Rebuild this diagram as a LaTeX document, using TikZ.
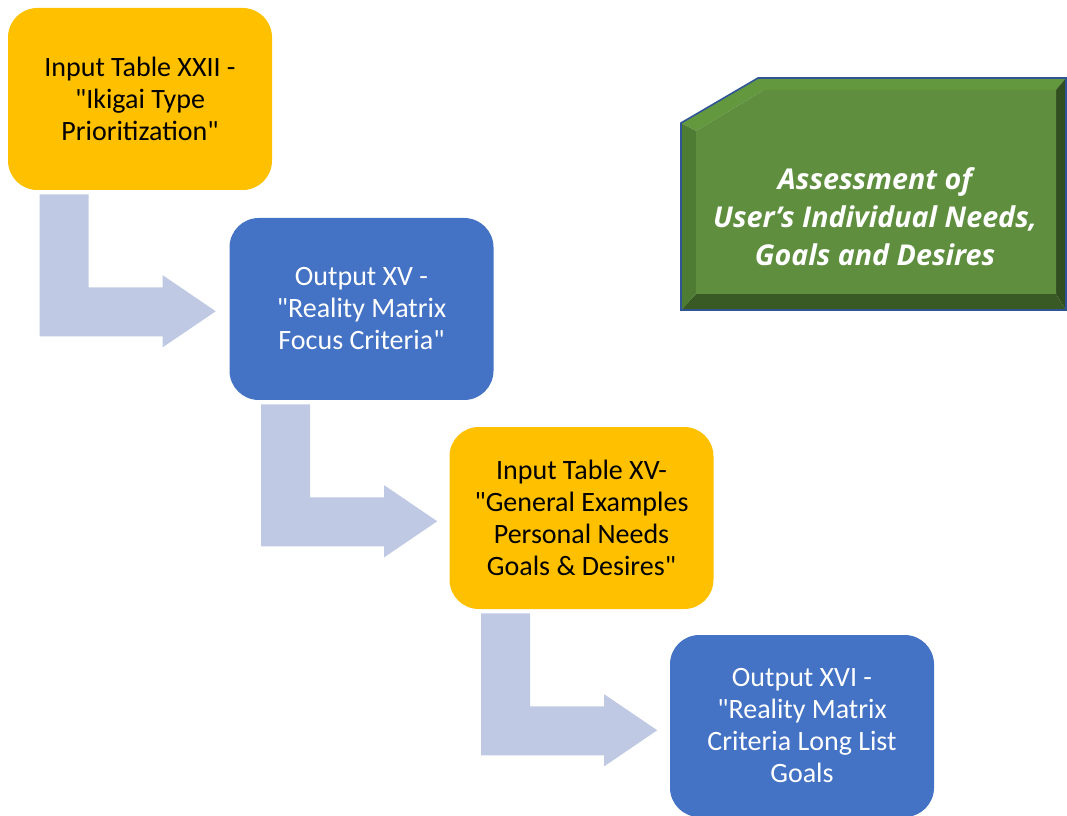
\documentclass[tikz,border=0pt]{standalone}
\usepackage{fontspec}
\setmainfont{Carlito}[Ligatures=TeXOff]
\newfontfamily\greenfont{Open Sans}
\usepackage{tikz}

\definecolor{boxyellow}{HTML}{FFC000}
\definecolor{boxblue}{HTML}{4472C4}
\definecolor{arrowblue}{HTML}{BFC9E3}
\definecolor{greenface}{HTML}{5E8E3E}
\definecolor{greentop}{HTML}{64983F}
\definecolor{greenleft}{HTML}{4E7C32}
\definecolor{greenbottom}{HTML}{3A5A25}
\definecolor{greenright}{HTML}{314E20}
\definecolor{greenedge}{HTML}{2F5597}

\tikzset{
  stepbox/.style={rounded corners=22pt, minimum width=198pt, minimum height=136.5pt,
    align=center, font=\fontsize{21}{24}\selectfont, inner sep=0pt},
  ybox/.style={stepbox, fill=boxyellow, text=black},
  bbox/.style={stepbox, fill=boxblue, text=white}
}

\begin{document}
\begin{tikzpicture}[x=0.75pt, y=-0.75pt]
\useasboundingbox (0,0) rectangle (1067,816);

\node[ybox] (b1) at (140,99) {Input Table XXII -\\"Ikigai Type\\Prioritization"};
\node[bbox] (b2) at (361.5,309) {Output XV -\\"Reality Matrix\\Focus Criteria"};
\node[ybox] (b3) at (581.5,518) {Input Table XV-\\"General Examples\\Personal Needs\\Goals \& Desires"};
\node[bbox] (b4) at (802,726) {Output XVI -\\"Reality Matrix\\Criteria Long List\\Goals};

\foreach \i in {1,2,3}
  \fill[arrowblue, shift={(b\i.south west)}] (32,4) -- (81,4) -- (81,97) -- (155,97) -- (155,85)
    -- (208,121) -- (155,157) -- (155,146) -- (32,146) -- cycle;

\fill[greentop] (681,123) -- (758,78) -- (1066,78) -- (1056,90) -- (764,90) -- (696,131) -- cycle;
\fill[greenright] (1066,78) -- (1066,310) -- (1056,294) -- (1056,90) -- cycle;
\fill[greenbottom] (1066,310) -- (681,310) -- (696,294) -- (1056,294) -- cycle;
\fill[greenleft] (681,310) -- (681,123) -- (696,131) -- (696,294) -- cycle;
\fill[greenface] (696,131) -- (764,90) -- (1056,90) -- (1056,294) -- (696,294) -- cycle;
\draw[greenedge, line width=1.2pt] (681,123) -- (758,78) -- (1066,78) -- (1066,310) -- (681,310) -- cycle;
\node[text=white, align=center, font=\greenfont\bfseries\itshape\fontsize{21.5}{28.5}\selectfont] (assess) at (875,217)
  {Assessment of\\User’s Individual Needs,\\Goals and Desires};
\end{tikzpicture}
\end{document}
